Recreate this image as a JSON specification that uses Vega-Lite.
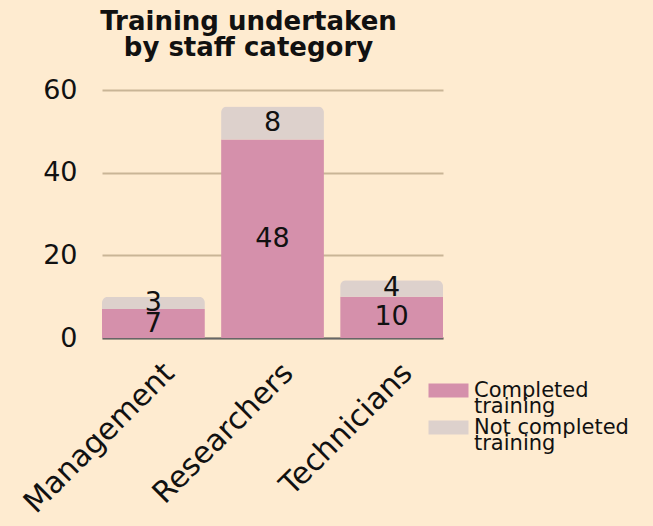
{
  "$schema": "https://vega.github.io/schema/vega-lite/v6.json",
  "width": 341,
  "height": 248,
  "autosize": "none",
  "padding": {"left": 102, "top": 90, "right": 210, "bottom": 188},
  "background": "#FEEBD0",
  "config": {"view": {"stroke": null}, "font": "DejaVu Sans"},
  "title": {
    "text": ["Training undertaken", "by staff category"],
    "fontSize": 26,
    "fontWeight": "bold",
    "lineHeight": 26,
    "color": "#111111",
    "anchor": "middle",
    "dx": -24,
    "offset": 15
  },
  "data": {
    "values": [
      {"category": "Management", "status": "Completed training", "count": 7},
      {"category": "Management", "status": "Not completed training", "count": 3},
      {"category": "Researchers", "status": "Completed training", "count": 48},
      {"category": "Researchers", "status": "Not completed training", "count": 8},
      {"category": "Technicians", "status": "Completed training", "count": 10},
      {"category": "Technicians", "status": "Not completed training", "count": 4}
    ]
  },
  "encoding": {
    "x": {
      "field": "category",
      "type": "nominal",
      "title": null,
      "scale": {"paddingInner": 0.136, "paddingOuter": 0},
      "axis": {
        "labelAngle": -45,
        "labelAlign": "right",
        "labelBaseline": "middle",
        "labelFontSize": 30,
        "labelLimit": 400,
        "labelColor": "#111111",
        "labelPadding": 30,
        "labelOffset": 16,
        "ticks": false,
        "domainColor": "#666666",
        "domainWidth": 2,
        "grid": false
      }
    }
  },
  "layer": [
    {
      "mark": {"type": "bar", "cornerRadiusTopLeft": 6, "cornerRadiusTopRight": 6},
      "encoding": {
        "y": {
          "aggregate": "sum",
          "field": "count",
          "type": "quantitative",
          "title": null,
          "scale": {"domain": [0, 60]},
          "axis": {
            "values": [0, 20, 40, 60],
            "labelFontSize": 27,
            "labelColor": "#111111",
            "labelPadding": 25,
            "ticks": false,
            "domain": false,
            "gridColor": "#C9B596",
            "gridWidth": 2
          }
        },
        "color": {
          "field": "status",
          "type": "nominal",
          "title": null,
          "scale": {
            "domain": ["Completed training", "Not completed training"],
            "range": ["#D590AB", "#DDD1CC"]
          },
          "legend": {
            "orient": "none",
            "legendX": 326,
            "legendY": 290,
            "labelFontSize": 21,
            "labelColor": "#111111",
            "labelExpr": "datum.label == 'Completed training' ? ['Completed', 'training'] : ['Not completed', 'training']",
            "symbolType": "M-1,-0.7H3V0.7H-1Z",
            "symbolSize": 400,
            "symbolStrokeWidth": 0,
            "rowPadding": -2,
            "labelOffset": 25,
            "labelLimit": 300,
            "encode": {"labels": {"update": {"lineHeight": {"value": 16}}}}
          }
        },
        "order": {"field": "status"}
      }
    },
    {
      "transform": [
        {"stack": "count", "groupby": ["category"], "sort": [{"field": "status"}], "as": ["y0", "y1"]},
        {"calculate": "(datum.y0 + datum.y1) / 2", "as": "ymid"}
      ],
      "mark": {"type": "text", "fontSize": 27, "color": "#111111", "baseline": "middle"},
      "encoding": {
        "y": {"field": "ymid", "type": "quantitative"},
        "text": {"field": "count", "type": "quantitative"}
      }
    }
  ]
}
